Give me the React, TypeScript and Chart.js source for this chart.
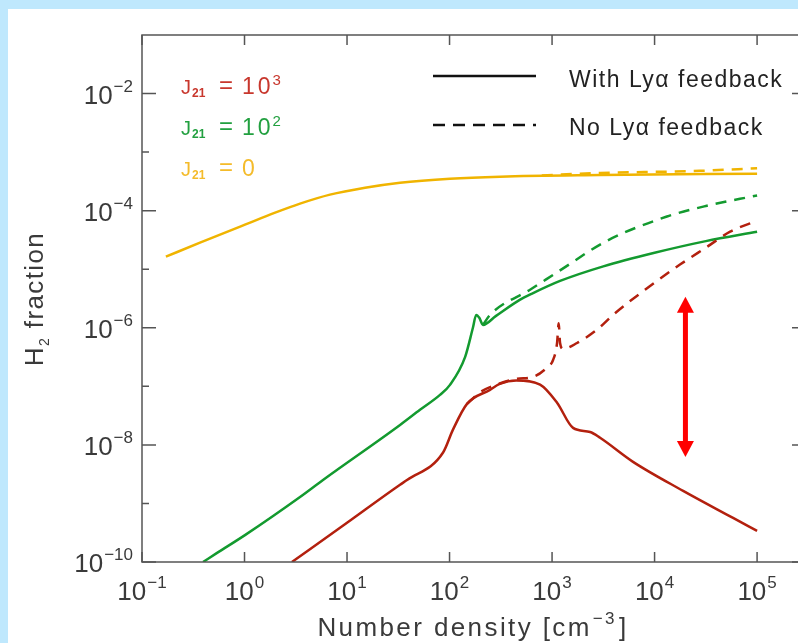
import React, { useEffect, useRef } from 'react';
import { Chart, registerables } from 'chart.js';
Chart.register(...registerables);

const FONT = '"Liberation Sans", Arial, sans-serif';

// ---- data (number density n [cm^-3], H2 fraction f) ----
const yellowSolidN = [0.171, 0.368, 1.01, 1.99, 3.48, 6.82, 15.0, 32.9, 101, 311, 2940, 1e5];
const yellowSolidF = [1.64e-5, 2.84e-5, 5.77e-5, 9.25e-5, 1.32e-4, 1.88e-4, 2.47e-4, 3.01e-4, 3.52e-4, 3.81e-4, 4.05e-4, 4.29e-4];
const yellowDashN = [794, 2940, 2.75e4, 1e5];
const yellowDashF = [4.0e-4, 4.4e-4, 4.79e-4, 5.3e-4];

const greenSolidN = [0.394, 0.54, 1.01, 3.48, 5.83, 32.9, 51.5, 80.7, 101, 142, 169, 182, 195, 212, 282, 488, 631, 1197, 3162, 1e4, 3.16e4, 1e5];
const greenSolidF = [1e-10, 1.43e-10, 2.88e-10, 1.29e-9, 2.52e-9, 2.19e-8, 3.98e-8, 7.16e-8, 1.06e-7, 3.19e-7, 1.0e-6, 1.66e-6, 1.48e-6, 1.12e-6, 1.58e-6, 3.02e-6, 3.8e-6, 6.31e-6, 1.12e-5, 1.91e-5, 3.02e-5, 4.37e-5];
const greenDashN = [212, 248, 610, 1197, 3388, 1.32e4, 3.16e4, 1e5];
const greenDashF = [1.12e-6, 1.66e-6, 4.47e-6, 9.55e-6, 3.02e-5, 7.94e-5, 1.2e-4, 1.82e-4];

const redSolidN = [2.9, 10, 32.9, 38.5, 86.5, 108, 148, 248, 309, 447, 764, 1119, 1603, 2350, 2940, 6166, 1.9e4, 5.83e4, 1e5];
const redSolidF = [1e-10, 4.68e-10, 2.09e-9, 2.51e-9, 7.41e-9, 1.82e-8, 5.01e-8, 8.71e-8, 1.1e-7, 1.26e-7, 1.07e-7, 5.25e-8, 1.95e-8, 1.66e-8, 1.32e-8, 5.13e-9, 1.64e-9, 5.65e-10, 3.39e-10];
const redDashN = [148, 199, 309, 457, 653, 891, 1023, 1119, 1161, 1197, 1279, 1754, 2754, 3936, 8072, 1.77e4, 3.24e4, 5.46e4, 1e5];
const redDashF = [5.01e-8, 7.94e-8, 1.12e-7, 1.35e-7, 1.45e-7, 2.09e-7, 2.82e-7, 5.5e-7, 1.2e-6, 5.5e-7, 4.37e-7, 5.5e-7, 9.33e-7, 1.66e-6, 4.47e-6, 1.2e-5, 2.4e-5, 4.37e-5, 6.76e-5];

// ---- axes ----
const xMin = 0.1, xMax = 3e5;
const yMin = 1e-10, yMax = 1e-1;
const xTicks = [0.1, 1, 10, 100, 1000, 1e4, 1e5];
const xTickExp = ['\u22121', '0', '1', '2', '3', '4', '5'];
const yMajorTicks = [1e-10, 1e-8, 1e-6, 1e-4, 1e-2];
const yMajorExp = ['\u221210', '\u22128', '\u22126', '\u22124', '\u22122'];
const yMinorTicks = [1e-9, 1e-7, 1e-5, 1e-3];

// ---- arrow annotation ----
const arrowN = 2e4;
const arrowTopF = 3.4e-6;
const arrowBottomF = 6.2e-9;

const RED = '#b3200e', GREEN = '#139a2f', YELLOW = '#f0b400';
const RED_T = '#c8372d', GREEN_T = '#22a040', YELLOW_T = '#f4bb2a';

const pts = (n: number[], f: number[]) => n.map((v, i) => ({ x: v, y: f[i] }));

function drawText(ctx: CanvasRenderingContext2D, s: string, x: number, y: number, size: number, color: string, ls = 0, bold = false) {
  ctx.font = `${bold ? 'bold ' : ''}${size}px ${FONT}`;
  (ctx as any).letterSpacing = ls + 'px';
  ctx.fillStyle = color;
  ctx.textAlign = 'left';
  ctx.textBaseline = 'alphabetic';
  ctx.fillText(s, x, y);
  const w = ctx.measureText(s).width;
  (ctx as any).letterSpacing = '0px';
  return w;
}

function measure(ctx: CanvasRenderingContext2D, s: string, size: number, ls = 0) {
  ctx.font = `${size}px ${FONT}`;
  (ctx as any).letterSpacing = ls + 'px';
  const w = ctx.measureText(s).width;
  (ctx as any).letterSpacing = '0px';
  return w;
}

function powLabel(ctx: CanvasRenderingContext2D, exp: string, x: number, base: number, align: 'center' | 'right') {
  const col = '#3a3a3a';
  const wb = measure(ctx, '10', 26);
  const we = measure(ctx, exp, 17);
  const total = wb + 1 + we;
  const left = align === 'center' ? x - total / 2 : x - total;
  drawText(ctx, '10', left, base, 26, col);
  drawText(ctx, exp, left + wb + 1, base - 12, 17, col);
}

const overlay = {
  id: 'overlay',
  afterDraw(chart: any) {
    const { ctx, chartArea: a, scales } = chart;
    const xs = scales.x, ys = scales.y;
    ctx.save();
    // frame
    ctx.strokeStyle = '#555';
    ctx.lineWidth = 1.5;
    ctx.strokeRect(a.left, a.top, a.right - a.left, a.bottom - a.top);
    ctx.beginPath();
    xTicks.forEach((v) => {
      const px = xs.getPixelForValue(v);
      ctx.moveTo(px, a.bottom); ctx.lineTo(px, a.bottom - 10);
      ctx.moveTo(px, a.top); ctx.lineTo(px, a.top + 10);
    });
    yMajorTicks.forEach((v) => {
      const py = ys.getPixelForValue(v);
      ctx.moveTo(a.left, py); ctx.lineTo(a.left + 14, py);
      ctx.moveTo(a.right, py); ctx.lineTo(a.right - 14, py);
    });
    yMinorTicks.forEach((v) => {
      const py = ys.getPixelForValue(v);
      ctx.moveTo(a.left, py); ctx.lineTo(a.left + 7, py);
      ctx.moveTo(a.right, py); ctx.lineTo(a.right - 7, py);
    });
    ctx.stroke();

    // tick labels
    xTicks.forEach((v, i) => powLabel(ctx, xTickExp[i], xs.getPixelForValue(v), a.bottom + 38, 'center'));
    yMajorTicks.forEach((v, i) => powLabel(ctx, yMajorExp[i], a.left - 9, ys.getPixelForValue(v) + 10, 'right'));

    // x title
    {
      const col = '#3a3a3a', ls = 2.4;
      const w1 = measure(ctx, 'Number density [cm', 26, ls);
      const w2 = measure(ctx, '\u22123', 17, ls);
      const w3 = measure(ctx, ']', 26, ls);
      const total = w1 + 1 + w2 + 2 + w3;
      let x = 473 - total / 2;
      const base = 636;
      drawText(ctx, 'Number density [cm', x, base, 26, col, ls);
      x += w1 + 1;
      drawText(ctx, '\u22123', x, base - 12, 17, col, ls);
      x += w2 + 2;
      drawText(ctx, ']', x, base, 26, col, ls);
    }
    // y title
    {
      const col = '#3a3a3a', ls = 1.4;
      ctx.save();
      ctx.translate(43, 299);
      ctx.rotate(-Math.PI / 2);
      const w1 = measure(ctx, 'H', 26, ls);
      const w2 = measure(ctx, '2', 14, ls);
      const w3 = measure(ctx, ' fraction', 26, ls);
      const total = w1 + w2 + w3;
      let x = -total / 2;
      drawText(ctx, 'H', x, 0, 26, col, ls);
      x += w1;
      drawText(ctx, '2', x, 6, 14, col, ls);
      x += w2;
      drawText(ctx, ' fraction', x, 0, 26, col, ls);
      ctx.restore();
    }

    // legend (line styles)
    ctx.strokeStyle = '#111';
    ctx.lineWidth = 2.5;
    ctx.beginPath(); ctx.moveTo(433, 76); ctx.lineTo(536, 76); ctx.stroke();
    ctx.setLineDash([12, 8]);
    ctx.beginPath(); ctx.moveTo(433, 125); ctx.lineTo(536, 125); ctx.stroke();
    ctx.setLineDash([]);
    drawText(ctx, 'With Ly\u03b1 feedback', 569, 87, 23, '#222', 1.5);
    drawText(ctx, 'No Ly\u03b1 feedback', 569, 135, 23, '#222', 1.5);

    // J21 labels
    const rows: [string, string, number][] = [[RED_T, '3', 94], [GREEN_T, '2', 135], [YELLOW_T, '', 176]];
    rows.forEach(([col, sup, base]) => {
      drawText(ctx, 'J', 181, base, 20, col);
      drawText(ctx, '21', 192, base + 3, 12, col, 0, true);
      drawText(ctx, '=', 219, base - 1, 24, col);
      if (sup) {
        const w = drawText(ctx, '10', 242, base, 23, col, 3);
        drawText(ctx, sup, 242 + w - 1, base - 9, 15, col);
      } else {
        drawText(ctx, '0', 242, base, 23, col);
      }
    });

    // red double arrow
    const ax = xs.getPixelForValue(arrowN);
    const at = ys.getPixelForValue(arrowTopF);
    const ab = ys.getPixelForValue(arrowBottomF);
    ctx.fillStyle = '#ff0000';
    ctx.strokeStyle = '#ff0000';
    ctx.lineWidth = 5;
    ctx.beginPath(); ctx.moveTo(ax, at + 14); ctx.lineTo(ax, ab - 14); ctx.stroke();
    ctx.beginPath(); ctx.moveTo(ax, at); ctx.lineTo(ax - 8.5, at + 16); ctx.lineTo(ax + 8.5, at + 16); ctx.closePath(); ctx.fill();
    ctx.beginPath(); ctx.moveTo(ax, ab); ctx.lineTo(ax - 8.5, ab - 16); ctx.lineTo(ax + 8.5, ab - 16); ctx.closePath(); ctx.fill();
    ctx.restore();
  },
};

export default function App() {
  const ref = useRef<HTMLCanvasElement>(null);
  useEffect(() => {
    const common = { pointRadius: 0, borderWidth: 2.5, fill: false, cubicInterpolationMode: 'monotone' as const };
    const dash = [11, 8];
    const chart = new Chart(ref.current as HTMLCanvasElement, {
      type: 'line',
      data: {
        datasets: [
          { ...common, data: pts(redSolidN, redSolidF), borderColor: RED },
          { ...common, data: pts(redDashN, redDashF), borderColor: RED, borderDash: dash },
          { ...common, data: pts(greenSolidN, greenSolidF), borderColor: GREEN },
          { ...common, data: pts(greenDashN, greenDashF), borderColor: GREEN, borderDash: dash },
          { ...common, data: pts(yellowSolidN, yellowSolidF), borderColor: YELLOW },
          { ...common, data: pts(yellowDashN, yellowDashF), borderColor: YELLOW, borderDash: dash },
        ] as any,
      },
      options: {
        animation: false,
        responsive: false,
        devicePixelRatio: 1,
        layout: { padding: { left: 142, top: 35, right: 24, bottom: 81 } },
        plugins: { legend: { display: false }, tooltip: { enabled: false } },
        events: [],
        scales: {
          x: { type: 'logarithmic', min: xMin, max: xMax, display: false, bounds: 'data' } as any,
          y: { type: 'logarithmic', min: yMin, max: yMax, display: false, bounds: 'data' } as any,
        },
      },
      plugins: [overlay],
    });
    return () => chart.destroy();
  }, []);
  return (
    <div style={{ position: 'fixed', left: 0, top: 0, width: 798, height: 643, overflow: 'hidden', background: '#bfe8fd' }}>
      <div style={{ position: 'absolute', left: 8, top: 9, width: 900, height: 700, background: '#ffffff' }} />
      <canvas ref={ref} width={830} height={643} style={{ position: 'absolute', left: 0, top: 0, width: 830, height: 643 }} />
    </div>
  );
}
